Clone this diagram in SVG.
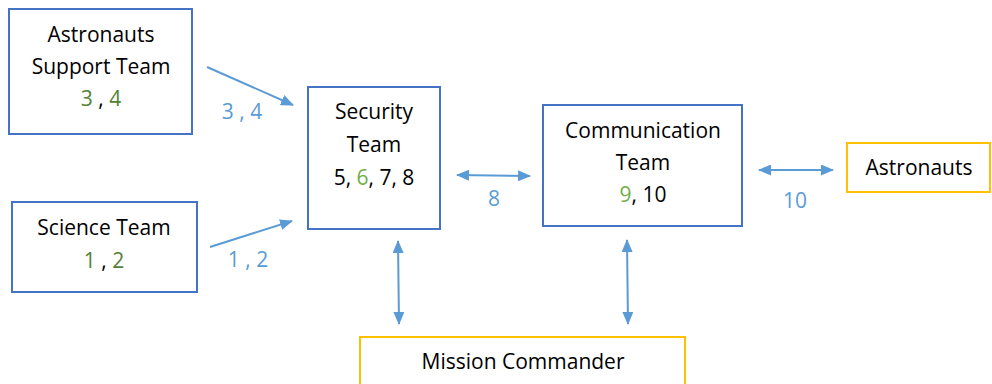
<svg xmlns="http://www.w3.org/2000/svg" width="992" height="384" viewBox="0 0 992 384">
  <style>
    text { font-family: "Open Sans", "Noto Sans", sans-serif; font-size: 21px; fill: #000; text-anchor: middle; }
    .team { fill: #fff; stroke: #4472C4; stroke-width: 2; }
    .ext { fill: #fff; stroke: #FFC000; stroke-width: 2; }
    .dk { fill: #548235; }
    .lt { fill: #70AD47; }
    .lbl { fill: #5B9BD5; }
    .conn { stroke: #5B9BD5; stroke-width: 2; fill: none; }
  </style>
  <defs>
    <marker id="head" viewBox="0 0 13 11" refX="12" refY="5.5" markerWidth="13" markerHeight="11" markerUnits="userSpaceOnUse" orient="auto-start-reverse">
      <path d="M0,0 L13,5.5 L0,11 Z" fill="#5B9BD5"/>
    </marker>
  </defs>
  <rect width="992" height="384" fill="#fff"/>

  <g id="support-team">
    <rect class="team" x="9" y="9" width="183" height="125"/>
    <text x="101" y="42">Astronauts</text>
    <text x="101" y="74">Support Team</text>
    <text x="101" y="106"><tspan class="dk">3</tspan> , <tspan class="dk">4</tspan></text>
  </g>

  <g id="science-team">
    <rect class="team" x="12" y="202" width="185" height="90"/>
    <text x="104" y="235">Science Team</text>
    <text x="104" y="268"><tspan class="dk">1</tspan> , <tspan class="dk">2</tspan></text>
  </g>

  <g id="security-team">
    <rect class="team" x="308" y="87" width="132" height="142"/>
    <text x="374" y="119">Security</text>
    <text x="374" y="152">Team</text>
    <text x="374" y="185">5, <tspan class="lt">6</tspan>, 7, 8</text>
  </g>

  <g id="communication-team">
    <rect class="team" x="543" y="105" width="199" height="121"/>
    <text x="643" y="138">Communication</text>
    <text x="643" y="170">Team</text>
    <text x="643" y="202"><tspan class="lt">9</tspan>, 10</text>
  </g>

  <g id="astronauts">
    <rect class="ext" x="847" y="143" width="143" height="49"/>
    <text x="919" y="175">Astronauts</text>
  </g>

  <g id="mission-commander">
    <rect class="ext" x="360" y="337" width="325" height="60"/>
    <text x="523" y="369">Mission Commander</text>
  </g>

  <g id="connectors">
    <line class="conn" x1="207" y1="67" x2="293" y2="105" marker-end="url(#head)"/>
    <line class="conn" x1="210" y1="247" x2="292" y2="221" marker-end="url(#head)"/>
    <line class="conn" x1="457" y1="175" x2="530" y2="176" marker-start="url(#head)" marker-end="url(#head)"/>
    <line class="conn" x1="759" y1="170" x2="833" y2="170" marker-start="url(#head)" marker-end="url(#head)"/>
    <line class="conn" x1="398" y1="241" x2="399" y2="324" marker-start="url(#head)" marker-end="url(#head)"/>
    <line class="conn" x1="627" y1="240" x2="628" y2="324" marker-start="url(#head)" marker-end="url(#head)"/>
    <text class="lbl" x="242" y="119">3 , 4</text>
    <text class="lbl" x="248" y="267">1 , 2</text>
    <text class="lbl" x="494" y="206">8</text>
    <text class="lbl" x="795" y="208">10</text>
  </g>
</svg>
